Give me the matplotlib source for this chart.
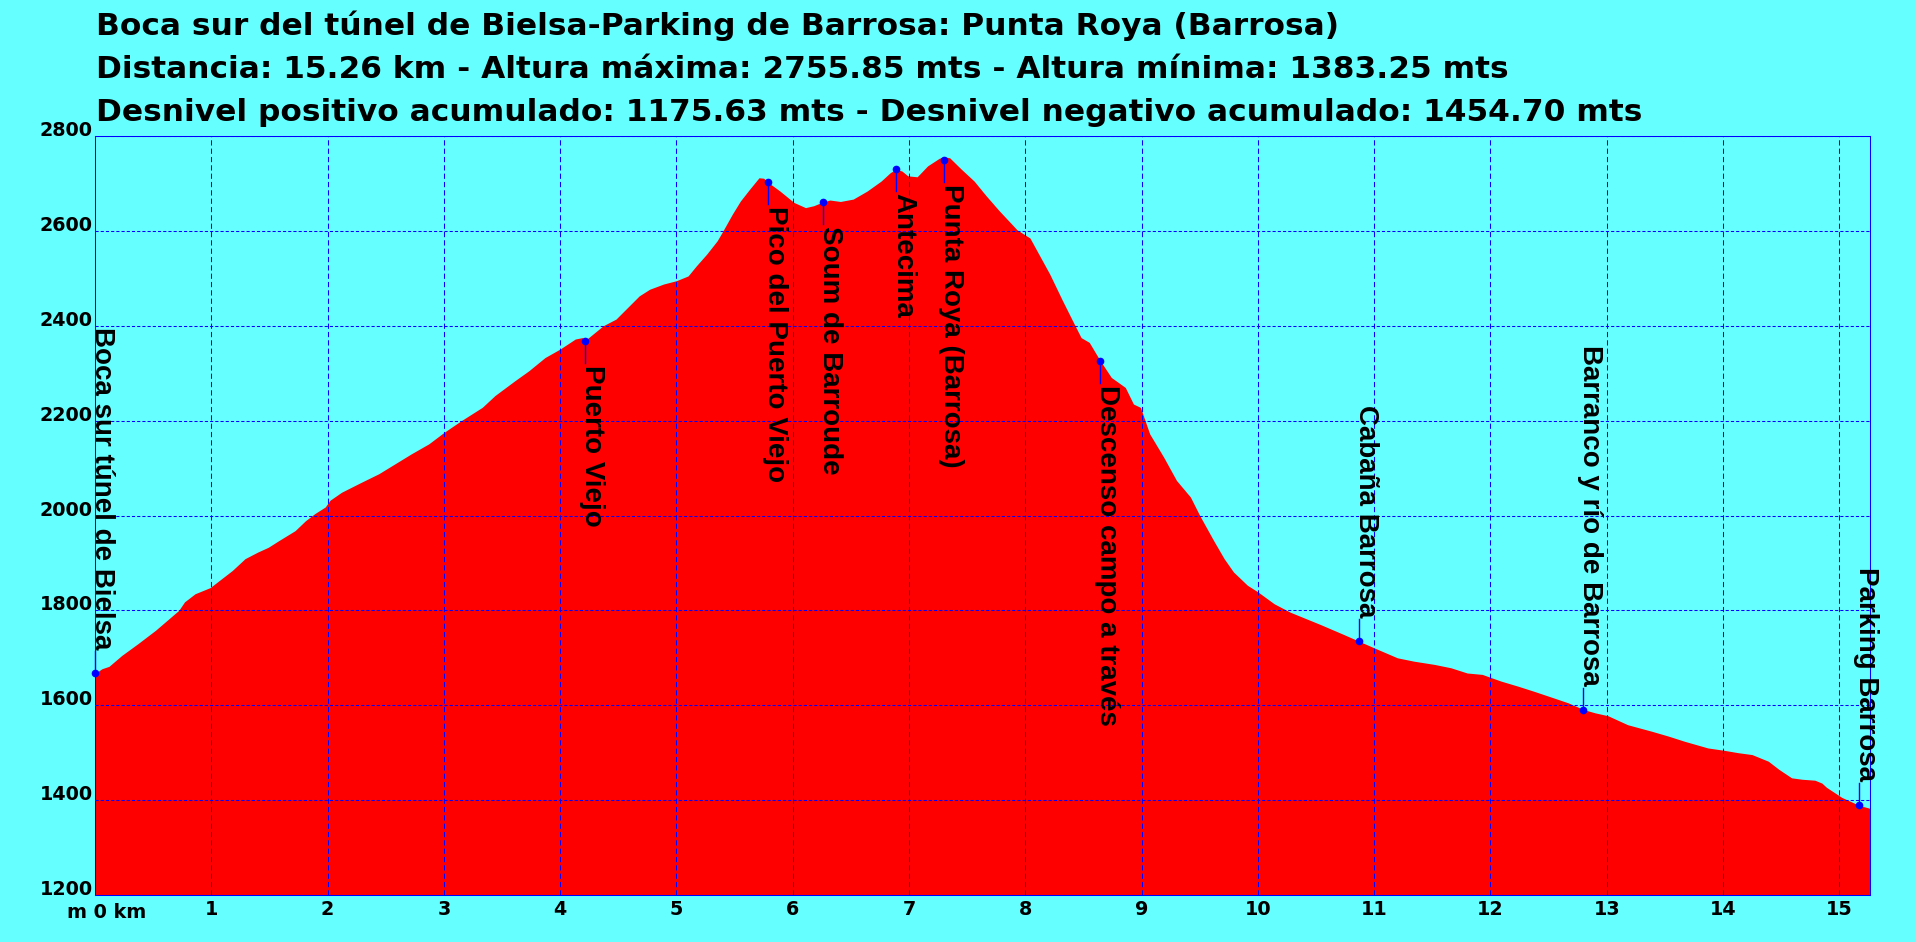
import matplotlib
matplotlib.use('Agg')
import matplotlib.pyplot as plt

# ---- data ----
km = [0.00, 0.06, 0.12, 0.23, 0.37, 0.52, 0.62, 0.72, 0.77, 0.86, 0.99, 1.09, 1.18, 1.29,
      1.40, 1.49, 1.58, 1.72, 1.81, 1.89, 1.98, 2.02, 2.12, 2.29, 2.44, 2.58, 2.72, 2.87,
      3.00, 3.15, 3.33, 3.44, 3.61, 3.73, 3.87, 4.00, 4.13, 4.19, 4.21, 4.30, 4.37, 4.48,
      4.68, 4.77, 4.89, 5.00, 5.10, 5.17, 5.26, 5.35, 5.40, 5.48, 5.55, 5.63, 5.71, 5.75,
      5.79, 5.89, 5.96, 6.01, 6.11, 6.18, 6.26, 6.32, 6.41, 6.52, 6.64, 6.76, 6.84, 6.89,
      6.94, 6.99, 7.07, 7.16, 7.26, 7.30, 7.35, 7.45, 7.56, 7.66, 7.77, 7.93, 8.04, 8.21,
      8.32, 8.42, 8.48, 8.55, 8.64, 8.74, 8.86, 8.93, 8.99, 9.07, 9.19, 9.30, 9.42, 9.50,
      9.62, 9.71, 9.79, 9.91, 10.00, 10.14, 10.28, 10.37, 10.54, 10.74, 10.87, 11.00,
      11.20, 11.34, 11.52, 11.66, 11.80, 11.93, 12.09, 12.24, 12.38, 12.55, 12.67, 12.80,
      12.90, 13.01, 13.18, 13.39, 13.53, 13.67, 13.87, 14.01, 14.13, 14.25, 14.39, 14.48,
      14.59, 14.68, 14.79, 14.85, 14.89, 15.02, 15.17, 15.26]
elev = [1667, 1677, 1682, 1705, 1730, 1758, 1779, 1800, 1818, 1835, 1848, 1867, 1884, 1909,
        1923, 1933, 1947, 1968, 1989, 2004, 2018, 2032, 2049, 2070, 2088, 2109, 2130, 2151,
        2175, 2200, 2228, 2253, 2284, 2305, 2333, 2351, 2372, 2375, 2368, 2386, 2400, 2414,
        2463, 2477, 2488, 2495, 2505, 2526, 2551, 2579, 2600, 2635, 2663, 2688, 2712, 2711,
        2702, 2684, 2670, 2660, 2649, 2653, 2661, 2665, 2662, 2667, 2684, 2705, 2723, 2730,
        2726, 2716, 2714, 2737, 2753, 2756, 2754, 2730, 2705, 2675, 2644, 2602, 2585, 2509,
        2453, 2404, 2375, 2365, 2328, 2291, 2270, 2235, 2228, 2172, 2123, 2074, 2039, 2000,
        1947, 1909, 1881, 1853, 1839, 1814, 1796, 1787, 1770, 1749, 1735, 1721,
        1700, 1693, 1686, 1679, 1668, 1665, 1651, 1640, 1629, 1615, 1605, 1591,
        1584, 1578, 1559, 1545, 1535, 1524, 1510, 1505, 1500, 1496, 1482, 1465,
        1447, 1444, 1442, 1436, 1427, 1406, 1389, 1383]

wp_names = ["Boca sur túnel de Bielsa", "Puerto Viejo", "Pico del Puerto Viejo",
            "Soum de Barroude", "Antecima", "Punta Roya (Barrosa)",
            "Descenso campo a través", "Cabaña Barrosa", "Barranco y río de Barrosa",
            "Parking Barrosa"]
wp_km = [0.0, 4.21, 5.79, 6.26, 6.89, 7.30, 8.64, 10.87, 12.80, 15.17]
wp_elev = [1667, 2368, 2702, 2661, 2730, 2750, 2326, 1735, 1591, 1389]
wp_above = [True, False, False, False, False, False, False, True, True, True]

title_lines = ["Boca sur del túnel de Bielsa-Parking de Barrosa: Punta Roya (Barrosa)",
               "Distancia: 15.26 km - Altura máxima: 2755.85 mts - Altura mínima: 1383.25 mts",
               "Desnivel positivo acumulado: 1175.63 mts - Desnivel negativo acumulado: 1454.70 mts"]
x_ticks = list(range(1, 16))
y_ticks = [1200, 1400, 1600, 1800, 2000, 2200, 2400, 2600, 2800]
x_max = 15.26

# ---- style ----
W, H, DPI = 1916, 942, 100
CYAN = '#66FFFF'
RED = '#FF0000'
BLUE = '#0000FF'
AX_L, AX_R, AX_T, AX_B = 95, 1869.5, 136, 895

fig = plt.figure(figsize=(W / DPI, H / DPI), dpi=DPI, facecolor=CYAN)
ax = fig.add_axes([AX_L / W, (H - AX_B) / H, (AX_R - AX_L) / W, (AX_B - AX_T) / H])
ax.set_facecolor(CYAN)
ax.fill_between(km, elev, y_ticks[0], color=RED, linewidth=0, zorder=1)
ax.set_xlim(0, x_max)
ax.set_ylim(y_ticks[0], y_ticks[-1])
ax.set_axisbelow(False)

ax.set_xticks(x_ticks)
ax.set_xticklabels([str(t) for t in x_ticks])
ax.set_yticks(y_ticks)
ax.set_yticklabels([str(t) for t in y_ticks])
ax.xaxis.grid(True, color=BLUE, linewidth=0.75, linestyle=(0, (5, 3)), zorder=2)
ax.yaxis.grid(True, color=BLUE, linewidth=0.75, linestyle=(0, (3, 2)), zorder=2)

ax.tick_params(axis='both', length=0, labelsize=13.8, labelcolor='black')
ax.tick_params(axis='y', pad=1.5)
ax.tick_params(axis='x', pad=3.5)
for lab in ax.get_xticklabels() + ax.get_yticklabels():
    lab.set_fontweight('bold')
for lab in ax.get_yticklabels():
    lab.set_verticalalignment('baseline')

for s in ax.spines.values():
    s.set_color(BLUE)
    s.set_linewidth(0.75)
    s.set_zorder(3)

fig.text(67 / W, 1 - 918 / H, "m 0 km", ha='left', va='baseline',
         fontsize=13.8, fontweight='bold')

for line, base in zip(title_lines, [35, 78, 121]):
    fig.text(96 / W, 1 - base / H, line, ha='left', va='baseline',
             fontsize=22.5, fontweight='bold')

# waypoints
ax_h_px = ax.get_position().height * H
m_per_px = (y_ticks[-1] - y_ticks[0]) / ax_h_px
for name, x, y, above in zip(wp_names, wp_km, wp_elev, wp_above):
    sign = 1 if above else -1
    ax.plot([x, x], [y, y + sign * 22 * m_per_px], color=BLUE, lw=1, zorder=4,
            clip_on=False)
    ax.plot([x], [y], 'o', color=BLUE, ms=4.5, mec=BLUE, zorder=5, clip_on=False)
    ax.annotate(name, xy=(x, y), xytext=(0, sign * 24), textcoords='offset pixels',
                rotation=-90, rotation_mode='anchor',
                ha='right' if above else 'left', va='baseline',
                fontsize=20, fontweight='bold', family=['Liberation Sans', 'DejaVu Sans'],
                annotation_clip=False, zorder=6)

fig.savefig('out.png', dpi=DPI, facecolor=CYAN)
